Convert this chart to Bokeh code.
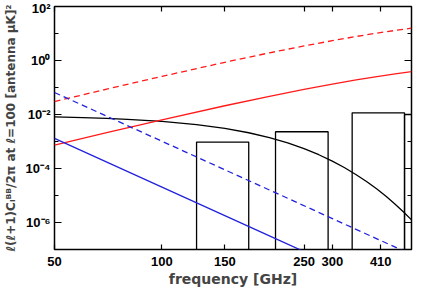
from bokeh.plotting import figure
from bokeh.models import LogAxis, FixedTicker, CustomJSTickFormatter, Range1d
from bokeh.embed import file_html
from bokeh.resources import INLINE

# ---- data ----
freq_cmb = [50, 60, 70, 80, 100, 125, 150, 175, 200, 225, 250, 275, 300, 325, 350,
            375, 400, 425, 450, 475, 500]
cmb = [8.1e-3, 7.65e-3, 7.16e-3, 6.64e-3, 5.56e-3, 4.23e-3, 3.06e-3, 2.11e-3, 1.39e-3,
       8.85e-4, 5.45e-4, 3.24e-4, 1.88e-4, 1.07e-4, 5.9e-5, 3.23e-5, 1.73e-5, 9.1e-6,
       4.75e-6, 2.45e-6, 1.25e-6]

freq_dust = [50, 70, 100, 150, 200, 250, 300, 350, 400, 450, 500]
dust_low = [7.4e-4, 2.13e-3, 6.35e-3, 2.11e-2, 4.71e-2, 8.49e-2, 0.133, 0.191, 0.254, 0.319, 0.385]
dust_high = [3.02e-2, 8.67e-2, 0.258, 0.859, 1.92, 3.46, 5.41, 7.76, 10.3, 13.0, 15.7]

freq_sync = [50, 100, 200, 300, 400, 500]
sync_low = [1.31e-3, 2.05e-5, 3.2e-7, 2.81e-8, 5.0e-9, 1.31e-9]
sync_high = [6.53e-2, 1.02e-3, 1.6e-5, 1.4e-6, 2.49e-7, 6.53e-8]

band_lo = [125, 208, 341, 478]
band_hi = [175, 292, 478, 560]
band_top = [9.5e-4, 2.3e-3, 1.15e-2, 1.0e-2]

x_ticks = [50, 100, 150, 250, 300, 410]
y_ticks = [1e-6, 1e-4, 1e-2, 1e0, 1e2]
y_minor = [1e-7, 1e-5, 1e-3, 1e-1, 1e1]

FONT = "Liberation Sans"
LFONT = "DejaVu Sans"

p = figure(width=414, height=289, x_axis_type="log", y_axis_type="log",
           x_range=Range1d(50, 500), y_range=Range1d(1e-7, 1e2),
           output_backend="svg", toolbar_location=None,
           min_border_left=47, min_border_right=3, min_border_top=6, min_border_bottom=34)
p.grid.visible = False
p.outline_line_color = "black"
p.outline_line_width = 1.5
p.background_fill_color = "white"
p.border_fill_color = "white"

# bands
p.quad(left=band_lo, right=band_hi, top=band_top, bottom=1e-9,
       fill_color=None, line_color="black", line_width=1.3)

# curves
p.line(freq_cmb, cmb, line_color="black", line_width=1.3)
p.line(freq_dust, dust_low, line_color="#ff1a1a", line_width=1.3)
p.line(freq_dust, dust_high, line_color="#ff1a1a", line_width=1.3, line_dash="6 4")
p.line(freq_sync, sync_low, line_color="#2222dd", line_width=1.3)
p.line(freq_sync, sync_high, line_color="#2222dd", line_width=1.3, line_dash="6 4")

sup_code = """
const e = Math.round(Math.log10(tick));
const sup = {"-":"\u207b","0":"\u2070","1":"\u00b9","2":"\u00b2","3":"\u00b3","4":"\u2074",
             "5":"\u2075","6":"\u2076","7":"\u2077","8":"\u2078","9":"\u2079"};
return "10" + String(e).split("").map(c => sup[c]).join("");
"""
x_code = "return String(Math.round(tick));"
blank_code = "return '';"

def style_axis(ax, tick_in, minor_in):
    ax.axis_line_color = None
    ax.major_tick_in = tick_in
    ax.major_tick_out = 0
    ax.minor_tick_in = minor_in
    ax.minor_tick_out = 0
    ax.major_tick_line_width = 1.2
    ax.minor_tick_line_width = 1.2
    ax.major_tick_line_color = "black"
    ax.minor_tick_line_color = "black"
    ax.major_label_text_font = FONT
    ax.major_label_text_font_style = "bold"
    ax.major_label_text_font_size = "13px"
    ax.major_label_text_color = "black"

xa = p.xaxis[0]
xa.ticker = FixedTicker(ticks=x_ticks, minor_ticks=[])
xa.formatter = CustomJSTickFormatter(code=x_code)
style_axis(xa, 5, 0)
xa.major_label_standoff = 7
xa.axis_label = "frequency [GHz]"
xa.axis_label_text_font = LFONT
xa.axis_label_text_font_style = "bold"
xa.axis_label_text_font_size = "14px"
xa.axis_label_standoff = 2

ya = p.yaxis[0]
ya.ticker = FixedTicker(ticks=y_ticks, minor_ticks=y_minor)
ya.formatter = CustomJSTickFormatter(code=sup_code)
style_axis(ya, 7, 4)
ya.major_label_standoff = 4
ya.axis_label = "\u2113(\u2113+1)C\u2097\u1d2e\u1d2e/2\u03c0 at \u2113=100 [antenna \u03bcK]\u00b2"
ya.axis_label_text_font = LFONT
ya.axis_label_text_font_style = "bold"
ya.axis_label_text_font_size = "12px"
ya.axis_label_standoff = 5

top = LogAxis(ticker=FixedTicker(ticks=x_ticks, minor_ticks=[]),
              formatter=CustomJSTickFormatter(code=blank_code))
style_axis(top, 5, 0)
top.major_label_standoff = 0
p.add_layout(top, "above")

right = LogAxis(ticker=FixedTicker(ticks=y_ticks, minor_ticks=y_minor),
                formatter=CustomJSTickFormatter(code=blank_code))
style_axis(right, 7, 4)
right.major_label_standoff = 0
p.add_layout(right, "right")

open("out.html", "w").write(file_html(p, INLINE))
